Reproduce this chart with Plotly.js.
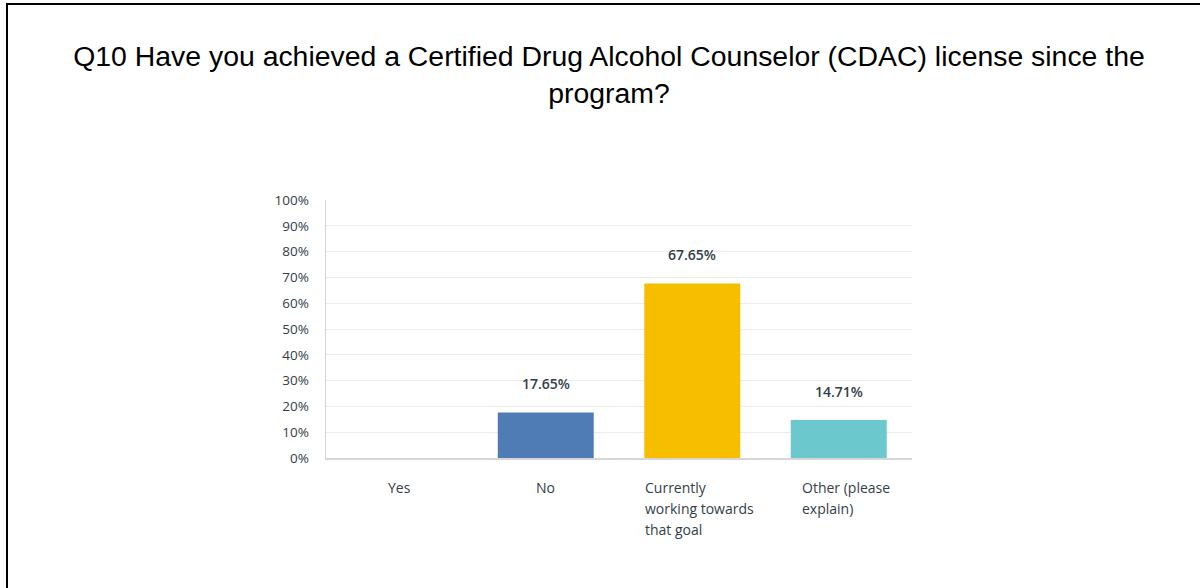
<!DOCTYPE html>
<html>
<head>
<meta charset="utf-8">
<script src="https://cdn.plot.ly/plotly-3.0.1.min.js"></script>
<style>
  html, body { margin: 0; padding: 0; background: #fff; }
  #wrap { position: relative; width: 1200px; height: 588px; overflow: hidden; }
  #chart { position: absolute; left: 0; top: 0; width: 1200px; height: 588px; }
  #frame { position: absolute; left: 6px; top: 3px; width: 1300px; height: 700px;
           border-left: 2px solid #000; border-top: 2px solid #000; pointer-events: none; }
</style>
</head>
<body>
<div id="wrap">
  <div id="chart"></div>
  <div id="frame"></div>
</div>
<script>
// ---- data ----
const categories = ["Yes", "No", "Currently working towards that goal", "Other (please explain)"];
const categoryLabels = ["Yes", "No", "Currently<br>working towards<br>that goal", "Other (please<br>explain)"];
const percentages = [0, 17.65, 67.65, 14.71];
const barColors = ["#507CB6", "#507CB6", "#F7BE00", "#6BC8CD"];
const titleText = "Q10 Have you achieved a Certified Drug Alcohol Counselor (CDAC) license since the<br>program?";
const tickValues = [0, 10, 20, 30, 40, 50, 60, 70, 80, 90, 100];
const tickLabels = ["0%", "10%", "20%", "30%", "40%", "50%", "60%", "70%", "80%", "90%", "100%"];

const textColor = "#333e48";
const uiFont = "'Open Sans', Lato, sans-serif";
const catFontSize = 14;
const catLineGap = 21;

const trace = {
  type: "bar",
  x: categories,
  y: percentages,
  marker: { color: barColors },
  hoverinfo: "x+y"
};

// measure text width for left-aligned multi-line labels
const cvs = document.createElement("canvas");
const ctx = cvs.getContext("2d");
ctx.font = catFontSize + "px 'Open Sans'";
function textW(s) { return ctx.measureText(s).width; }

const annotations = [];
// value labels above bars (non-zero only)
categories.forEach((c, i) => {
  if (percentages[i] > 0) {
    annotations.push({
      x: c, y: percentages[i], xref: "x", yref: "y",
      text: percentages[i].toFixed(2) + "%",
      showarrow: false, xanchor: "center", yanchor: "bottom", yshift: 17,
      font: { family: uiFont, size: 14, color: textColor, weight: 600 }
    });
  }
});
// category labels below axis (one annotation per line, block left-aligned)
categories.forEach((c, i) => {
  const lines = categoryLabels[i].split("<br>");
  const multi = lines.length > 1;
  const blockW = Math.max(...lines.map(textW));
  lines.forEach((ln, k) => {
    annotations.push({
      x: c, y: 0, xref: "x", yref: "y",
      text: ln,
      showarrow: false,
      xanchor: multi ? "left" : "center",
      xshift: multi ? (-blockW / 2 + 5) : 0,
      yanchor: "top", yshift: -18 - k * catLineGap,
      font: { family: uiFont, size: catFontSize, color: textColor }
    });
  });
});

const layout = {
  width: 1200,
  height: 588,
  paper_bgcolor: "rgba(0,0,0,0)",
  plot_bgcolor: "#fff",
  margin: { l: 326, r: 288, t: 200, b: 130, pad: 0 },
  showlegend: false,
  bargap: 0.345,
  title: {
    text: titleText,
    font: { family: "'Liberation Sans', Arial, sans-serif", size: 28.4, color: "#000" },
    x: 609 / 1200, xref: "container", xanchor: "center",
    y: 1 - 66 / 588, yref: "container", yanchor: "top"
  },
  xaxis: {
    type: "category",
    showticklabels: false,
    showgrid: false,
    zeroline: false,
    showline: true,
    linecolor: "#d6d6d6",
    linewidth: 1.5,
    ticks: ""
  },
  yaxis: {
    range: [0, 100],
    tickmode: "array",
    tickvals: tickValues,
    ticktext: tickLabels,
    tickfont: { family: uiFont, size: 13.5, color: textColor },
    showgrid: true,
    gridcolor: "#ececec",
    gridwidth: 1,
    zeroline: false,
    showline: true,
    linecolor: "#d6d6d6",
    linewidth: 1.5,
    ticks: "",
    ticklabelstandoff: 13
  },
  annotations: annotations
};

Plotly.newPlot("chart", [trace], layout, { displayModeBar: false, staticPlot: true });
</script>
</body>
</html>
